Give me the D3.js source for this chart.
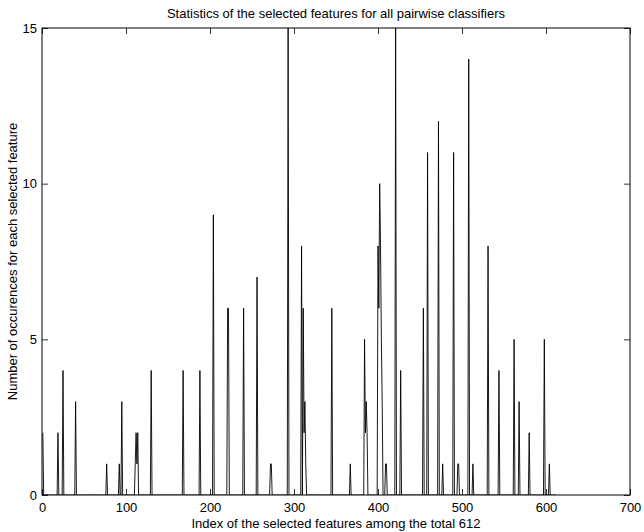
<!DOCTYPE html>
<html>
<head>
<meta charset="utf-8">
<script src="https://cdn.jsdelivr.net/npm/d3@7/dist/d3.min.js"></script>
<style>
  body { margin: 0; background: #fff; }
  text { font-family: "Liberation Sans", Arial, sans-serif; }
</style>
</head>
<body>
<svg id="chart" width="644" height="532"></svg>
<script>
// feature index (1..612) -> number of occurences, all other features are 0
var nFeatures = 612;
var featureIdx = [1, 19, 25, 40, 77, 92, 95, 111, 112, 113, 114, 130, 168, 188, 204,
  221, 222, 240, 256, 272, 273, 293, 309, 311, 312, 313, 314, 345, 367,
  384, 385, 386, 387, 400, 401, 402, 403, 404, 405, 409, 410, 421, 427,
  454, 459, 472, 477, 490, 495, 496, 508, 513, 531, 544, 562, 568, 580, 598, 604];
var counts = [2, 2, 4, 3, 1, 1, 3, 1, 2, 1, 2, 4, 4, 4, 9,
  6, 6, 6, 7, 1, 1, 15, 8, 6, 2, 3, 1, 6, 1,
  5, 2, 3, 2, 8, 6, 10, 8, 5, 3, 1, 1, 15, 4,
  6, 11, 12, 1, 11, 1, 1, 14, 1, 8, 4, 5, 3, 2, 5, 1];
var xTicks = [0, 100, 200, 300, 400, 500, 600, 700];
var yTicks = [0, 5, 10, 15];

var titleText = 'Statistics of the selected features for all pairwise classifiers';
var xLabel = 'Index of the selected features among the total 612';
var yLabel = 'Number of occurences for each selected feature';

var margin = {left: 42, right: 14, top: 28, bottom: 37};
var svgWidth = 644, svgHeight = 532;
var width = svgWidth - margin.left - margin.right;
var height = svgHeight - margin.top - margin.bottom;

var svg = d3.select('#chart');
var g = svg.append('g')
           .attr('transform', 'translate(' + margin.left + ',' + margin.top + ')');

var lookup = {};
featureIdx.forEach(function(f, i){ lookup[f] = counts[i]; });
var series = [];
for (var i = 1; i <= nFeatures; i++) {
    series.push({idx: i, val: lookup[i] || 0});
}

var x = d3.scaleLinear().domain([0, 700]).range([0, width]);
var y = d3.scaleLinear().domain([0, 15]).range([height, 0]);

svg.append('defs').append('clipPath').attr('id', 'clip')
   .append('rect').attr('width', width).attr('height', height);

var line = d3.line()
             .x(function(d){ return x(d.idx); })
             .y(function(d){ return y(d.val); });

g.append('path')
 .datum(series)
 .attr('clip-path', 'url(#clip)')
 .attr('d', line)
 .attr('fill', 'none')
 .attr('stroke', '#000')
 .attr('stroke-width', 0.9);

function styleAxis(sel) {
    sel.select('.domain').remove();
    sel.selectAll('line').attr('stroke', '#000').attr('stroke-width', 0.8);
    sel.selectAll('text').attr('font-size', '13px').attr('fill', '#000')
       .style('font-family', '"Liberation Sans", Arial, sans-serif');
}

g.append('g')
 .attr('transform', 'translate(0,' + height + ')')
 .call(d3.axisBottom(x).tickValues(xTicks).tickSize(-6).tickPadding(8).tickFormat(d3.format('d')))
 .call(styleAxis);

g.append('g')
 .call(d3.axisTop(x).tickValues(xTicks).tickSize(-6).tickFormat(''))
 .call(styleAxis);

g.append('g')
 .call(d3.axisLeft(y).tickValues(yTicks).tickSize(-6).tickPadding(5).tickFormat(d3.format('d')))
 .call(styleAxis);

g.append('g')
 .attr('transform', 'translate(' + width + ',0)')
 .call(d3.axisRight(y).tickValues(yTicks).tickSize(-6).tickFormat(''))
 .call(styleAxis);

g.append('rect')
 .attr('width', width).attr('height', height)
 .attr('fill', 'none').attr('stroke', '#000').attr('stroke-width', 1);

svg.append('text')
   .attr('x', margin.left + width / 2).attr('y', 18)
   .attr('text-anchor', 'middle').attr('font-size', '13px')
   .text(titleText);

svg.append('text')
   .attr('x', margin.left + width / 2).attr('y', 528)
   .attr('text-anchor', 'middle').attr('font-size', '13px')
   .text(xLabel);

svg.append('text')
   .attr('transform', 'translate(17,' + (margin.top + height / 2) + ') rotate(-90)')
   .attr('text-anchor', 'middle').attr('font-size', '13px')
   .text(yLabel);
</script>
</body>
</html>
